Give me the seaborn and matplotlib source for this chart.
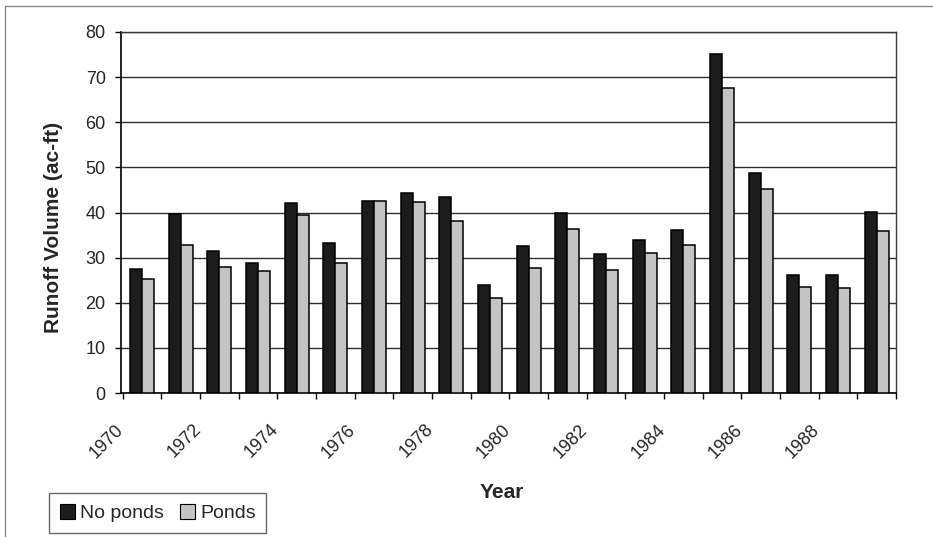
import numpy as np
import pandas as pd
import matplotlib
matplotlib.use("Agg")
import matplotlib.pyplot as plt
from matplotlib.patches import Rectangle
from matplotlib.lines import Line2D
import seaborn as sns

years = list(range(1970, 1990))
no_ponds = [27.5, 39.6, 31.5, 28.8, 42.2, 33.3, 42.6, 44.4, 43.4, 24.0,
            32.5, 39.9, 30.8, 33.8, 36.2, 75.1, 48.7, 26.2, 26.2, 40.2]
ponds = [25.3, 32.7, 27.9, 27.0, 39.4, 28.8, 42.6, 42.3, 38.1, 21.0,
         27.7, 36.4, 27.2, 31.0, 32.7, 67.5, 45.1, 23.6, 23.2, 35.8]
series = ["No ponds", "Ponds"]
colors = ["#1c1c1c", "#c4c4c4"]
y_ticks = list(range(0, 81, 10))
label_years = [y for y in years if y % 2 == 0]

df = pd.DataFrame({
    "Year": [str(y) for y in years] * 2,
    "Volume": no_ponds + ponds,
    "Series": [series[0]] * len(years) + [series[1]] * len(years),
})

sns.set_theme(style="white")
plt.rcParams["font.family"] = ["Liberation Sans", "DejaVu Sans"]

W, H = 933, 537
fig = plt.figure(figsize=(W / 100, H / 100), dpi=100)
ax = fig.add_axes([121 / W, 1 - 393 / H, (896 - 121) / W, (393 - 32) / H])

sns.barplot(data=df, x="Year", y="Volume", hue="Series", palette=colors,
            width=0.62, edgecolor="black", linewidth=1.1, saturation=1,
            ax=ax, legend=True, zorder=3)

ax.set_ylim(0, 80)
ax.set_xlim(-0.5, len(years) - 0.5)
ax.set_yticks(y_ticks)
ax.set_yticklabels([str(v) for v in y_ticks], fontsize=13)
ax.yaxis.grid(True, color="#2e2e2e", linewidth=1.0, zorder=0)
ax.set_axisbelow(True)

# slanted year labels on every other group; the label's right end sits
# a little left of its group's centre
label_pos = [years.index(y) - 0.54 for y in label_years]
ax.set_xticks(label_pos)
ax.set_xticklabels([str(y) for y in label_years], rotation=45, ha="right",
                   va="center", rotation_mode="anchor", fontsize=13)
ax.set_xticks(np.arange(-0.5, len(years), 1.0), minor=True)
ax.tick_params(axis="x", which="major", length=0, pad=24.5)
ax.tick_params(axis="x", which="minor", length=4, width=1, color="black",
               direction="out", bottom=True)
ax.tick_params(axis="y", length=4, width=1, color="black", direction="out",
               left=True, pad=7)

for side in ["left", "bottom"]:
    ax.spines[side].set_color("black")
    ax.spines[side].set_linewidth(1.2)
for side in ["top", "right"]:
    ax.spines[side].set_color("#3a3a3a")
    ax.spines[side].set_linewidth(1.0)

ax.set_xlabel("")
ax.set_ylabel("")
fig.text(54 / W, 1 - 227 / H, "Runoff Volume (ac-ft)", rotation=90,
         ha="center", va="center", fontsize=15, fontweight="bold")
fig.text(502 / W, 1 - 493 / H, "Year", ha="center", va="center",
         fontsize=15, fontweight="bold")

ax.get_legend().remove()
handles = [Rectangle((0, 0), 1, 1, facecolor=c, edgecolor="black", linewidth=0.8)
           for c in colors]
leg = fig.legend(handles, series, loc="upper left",
                 bbox_to_anchor=(49 / W, 1 - 493 / H), ncol=2, frameon=True,
                 fontsize=14, handlelength=0.8, handleheight=0.8,
                 handletextpad=0.25, columnspacing=0.8, borderpad=0.55,
                 borderaxespad=0, fancybox=False)
leg.get_frame().set_edgecolor("#444444")
leg.get_frame().set_linewidth(1.0)

# outer chart frame (left and top edges fall inside the image)
fig.add_artist(Line2D([5 / W, 5 / W], [0, 1 - 6 / H], transform=fig.transFigure,
                      color="#8a8a8a", linewidth=1.0))
fig.add_artist(Line2D([5 / W, 1], [1 - 6 / H, 1 - 6 / H], transform=fig.transFigure,
                      color="#8a8a8a", linewidth=1.0))

fig.savefig("out.png", dpi=100)
